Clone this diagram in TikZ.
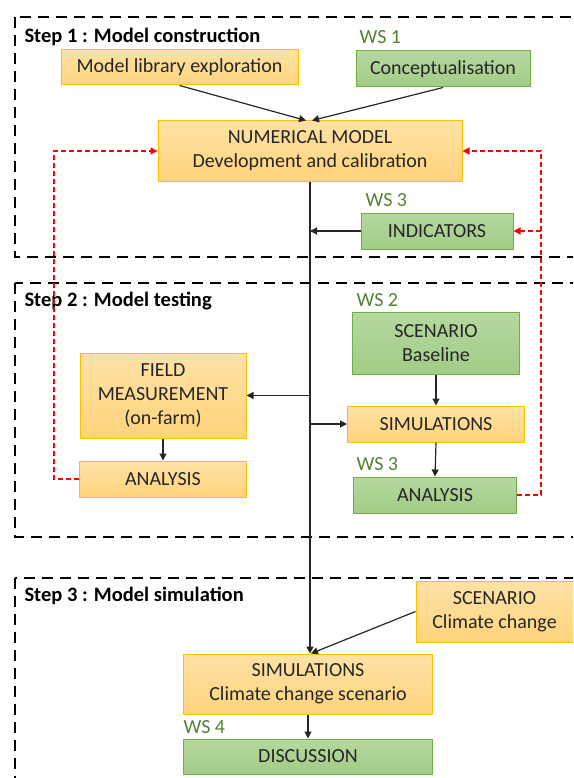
\documentclass[tikz,border=0pt]{standalone}
\usepackage{fontspec}
\setmainfont{Carlito}
\usetikzlibrary{arrows.meta}
\definecolor{orTop}{HTML}{FFE2A6}
\definecolor{orBot}{HTML}{FFD37C}
\definecolor{orLine}{HTML}{FFC000}
\definecolor{grTop}{HTML}{B5D89F}
\definecolor{grBot}{HTML}{A1CC86}
\definecolor{grLine}{HTML}{70AD47}
\definecolor{wsText}{HTML}{548235}
\definecolor{txt}{HTML}{262626}
\begin{document}
\begin{tikzpicture}[x=1pt,y=-1pt,
    font=\fontsize{20}{24}\selectfont, text=txt,
    orbox/.style={draw=orLine, line width=1pt, top color=orTop, bottom color=orBot,
        align=center, inner sep=0pt},
    grbox/.style={draw=grLine, line width=1pt, top color=grTop, bottom color=grBot,
        align=center, inner sep=0pt},
    steplabel/.style={anchor=west, font=\fontsize{20.5}{24}\selectfont\bfseries, text=black},
    wslabel/.style={anchor=west, text=wsText},
    stepframe/.style={draw=black, line width=2.4pt, dash pattern=on 11pt off 7pt},
    arr/.style={draw=txt, line width=1.2pt, -{Triangle[length=7pt,width=7pt]}},
    fb/.style={draw=red, line width=1.3pt, dash pattern=on 5pt off 3pt,
        -{Triangle[length=7pt,width=7pt]}}]
    \useasboundingbox (0,0) rectangle (573,778);
    \clip (0,0) rectangle (573,778);

    % Frames of the three steps
    \draw[stepframe] (15,17) rectangle (620,257);
    \draw[stepframe] (15,283) rectangle (620,537);
    \draw[stepframe] (15,578) rectangle (620,820);

    % Step 1
    \node[steplabel] (s1) at (21,37) {Step 1 : Model construction};
    \node[wslabel] (ws1) at (356,37) {WS 1};
    \node[orbox, minimum width=237pt, minimum height=35pt] (lib) at (179.5,67.5) {Model library exploration};
    \node[grbox, minimum width=174pt, minimum height=36pt] (concept) at (443,69) {Conceptualisation};
    \node[orbox, minimum width=304pt, minimum height=60pt] (nummod) at (310,151)
        {NUMERICAL MODEL\\Development and calibration};
    \node[wslabel] (ws3a) at (362,200) {WS 3};
    \node[grbox, minimum width=152pt, minimum height=36pt] (indic) at (437,231) {INDICATORS};

    % Step 2
    \node[steplabel] (s2) at (21,301) {Step 2 : Model testing};
    \node[wslabel] (ws2) at (353,300) {WS 2};
    \node[grbox, minimum width=167pt, minimum height=62pt] (scenbase) at (436,343) {SCENARIO\\Baseline};
    \node[orbox, minimum width=166pt, minimum height=85pt] (field) at (163,395.5)
        {FIELD\\MEASUREMENT\\(on-farm)};
    \node[orbox, minimum width=177pt, minimum height=36pt] (sim) at (436,424) {SIMULATIONS};
    \node[orbox, minimum width=167pt, minimum height=36pt] (anaL) at (163,479) {ANALYSIS};
    \node[wslabel] (ws3b) at (353,464) {WS 3};
    \node[grbox, minimum width=163pt, minimum height=36pt] (anaR) at (435,495) {ANALYSIS};

    % Step 3
    \node[steplabel] (s3) at (21,596) {Step 3 : Model simulation};
    \node[orbox, minimum width=157pt, minimum height=61pt] (scencc) at (494.5,611.5)
        {SCENARIO\\Climate change};
    \node[orbox, minimum width=249pt, minimum height=60pt] (simcc) at (308,684)
        {SIMULATIONS\\Climate change scenario};
    \node[wslabel] (ws4) at (180,727) {WS 4};
    \node[grbox, minimum width=249pt, minimum height=35pt] (disc) at (308,756.5) {DISCUSSION};

    % Arrows into the model
    \draw[arr] (lib.south) -- ([xshift=-4pt]nummod.north);
    \draw[arr] (concept.south) -- ([xshift=2pt]nummod.north);

    % Main line
    \draw[arr, line width=1.7pt] (nummod.south) -- (nummod.south |- simcc.north);
    \draw[arr] (indic.west) -- (nummod.south |- indic.west);
    \draw[arr] (nummod.south |- field.east) -- (field.east);
    \draw[arr] (nummod.south |- sim.west) -- (sim.west);

    % Inside the steps
    \draw[arr] (scenbase.south) -- (sim.north);
    \draw[arr] (sim.south) -- (anaR.north);
    \draw[arr] (field.south) -- (anaL.north);
    \draw[arr] (scencc.west) -- ([xshift=3pt]simcc.north);
    \draw[arr] (simcc.south) -- (disc.north);

    % Feedback
    \coordinate (fbL) at (54,151);
    \coordinate (fbR) at (541,151);
    \draw[fb] (anaL.west) -| (fbL) -- (nummod.west);
    \draw[fb] (anaR.east) -| (fbR) -- (nummod.east);
    \draw[fb] (fbR |- indic.east) -- (indic.east);
\end{tikzpicture}
\end{document}
